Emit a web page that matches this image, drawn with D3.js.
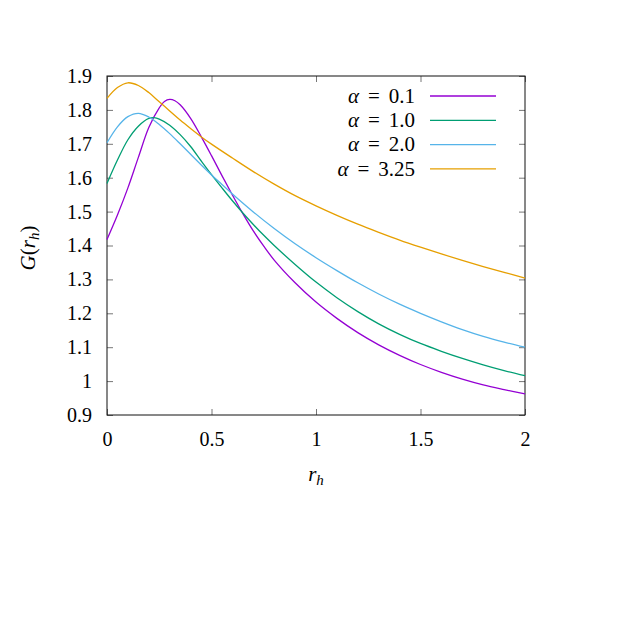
<!DOCTYPE html>
<meta charset="utf-8">
<head>
  <title>G(r_h)</title>
  <script src="https://d3js.org/d3.v7.min.js"></script>
  <style>
    body { margin: 0; background: #fff; }
    text { font-family: "Liberation Serif", "Times New Roman", serif; fill: #000; }
  </style>
</head>
<body>
<svg width="630" height="630"></svg>
<script>
// values
var alphaLabels = ["0.1", "1.0", "2.0", "3.25"];
var colors = ["#9400d3", "#009e73", "#56b4e9", "#e69f00"];

var rPurple = [0, 0.05, 0.1, 0.15, 0.2, 0.25, 0.275, 0.3, 0.325, 0.35, 0.4, 0.45, 0.5, 0.55, 0.6, 0.65, 0.7, 0.75, 0.8, 0.9, 1.0, 1.1, 1.2, 1.3, 1.4, 1.5, 1.6, 1.7, 1.8, 1.9, 2.0];
var gPurple = [1.418, 1.490, 1.570, 1.660, 1.748, 1.806, 1.825, 1.831, 1.827, 1.815, 1.775, 1.722, 1.665, 1.606, 1.549, 1.494, 1.443, 1.398, 1.357, 1.290, 1.233, 1.185, 1.143, 1.107, 1.076, 1.049, 1.026, 1.006, 0.989, 0.975, 0.962];

var rGreen = [0, 0.05, 0.1, 0.15, 0.2, 0.225, 0.25, 0.3, 0.35, 0.4, 0.45, 0.5, 0.55, 0.6, 0.65, 0.7, 0.75, 0.8, 0.9, 1.0, 1.1, 1.2, 1.3, 1.4, 1.5, 1.6, 1.7, 1.8, 1.9, 2.0];
var gGreen = [1.583, 1.652, 1.712, 1.752, 1.775, 1.777, 1.773, 1.755, 1.727, 1.692, 1.650, 1.609, 1.570, 1.532, 1.496, 1.462, 1.430, 1.400, 1.344, 1.292, 1.246, 1.205, 1.169, 1.138, 1.111, 1.088, 1.067, 1.048, 1.031, 1.016];

var rBlue = [0, 0.05, 0.1, 0.15, 0.2, 0.25, 0.3, 0.35, 0.4, 0.45, 0.5, 0.55, 0.6, 0.7, 0.8, 0.9, 1.0, 1.1, 1.2, 1.3, 1.4, 1.5, 1.6, 1.7, 1.8, 1.9, 2.0];
var gBlue = [1.703, 1.750, 1.780, 1.790, 1.779, 1.757, 1.730, 1.700, 1.669, 1.638, 1.608, 1.580, 1.552, 1.499, 1.450, 1.405, 1.364, 1.326, 1.290, 1.257, 1.227, 1.200, 1.175, 1.152, 1.132, 1.115, 1.100];

var rOrange = [0, 0.05, 0.1, 0.15, 0.2, 0.25, 0.3, 0.35, 0.4, 0.45, 0.5, 0.6, 0.7, 0.8, 0.9, 1.0, 1.1, 1.2, 1.3, 1.4, 1.5, 1.6, 1.7, 1.8, 1.9, 2.0];
var gOrange = [1.834, 1.866, 1.880, 1.872, 1.851, 1.824, 1.797, 1.770, 1.745, 1.721, 1.699, 1.658, 1.618, 1.581, 1.547, 1.517, 1.489, 1.463, 1.439, 1.416, 1.395, 1.375, 1.356, 1.338, 1.321, 1.304];

var xTicks = [0, 0.5, 1, 1.5, 2];
var yTicks = [0.9, 1, 1.1, 1.2, 1.3, 1.4, 1.5, 1.6, 1.7, 1.8, 1.9];

var series = [
  {r: rPurple, g: gPurple},
  {r: rGreen, g: gGreen},
  {r: rBlue, g: gBlue},
  {r: rOrange, g: gOrange}
];

var svg = d3.select("svg"),
    margin = {top: 76, right: 105, bottom: 215, left: 107},
    width = 630 - margin.left - margin.right,
    height = 630 - margin.top - margin.bottom,
    g = svg.append("g").attr("transform", "translate(" + margin.left + "," + margin.top + ")");

var x = d3.scaleLinear().domain([0, 2]).range([0, width]);
var y = d3.scaleLinear().domain([0.9, 1.9]).range([height, 0]);

var tickLen = 6;
function fmt(d) { return d3.format("~g")(d); }

// axes with inward ticks, mirrored on top and right
var axB = g.append("g").attr("transform", "translate(0," + height + ")")
  .call(d3.axisBottom(x).tickValues(xTicks).tickSize(-tickLen).tickPadding(17).tickFormat(fmt));
var axT = g.append("g")
  .call(d3.axisTop(x).tickValues(xTicks).tickSize(-tickLen).tickFormat(""));
var axL = g.append("g")
  .call(d3.axisLeft(y).tickValues(yTicks).tickSize(-tickLen).tickPadding(15).tickFormat(fmt));
var axR = g.append("g").attr("transform", "translate(" + width + ",0)")
  .call(d3.axisRight(y).tickValues(yTicks).tickSize(-tickLen).tickFormat(""));

[axB, axT, axL, axR].forEach(function(a) {
  a.select(".domain").remove();
  a.selectAll(".tick line").attr("stroke", "#777");
  a.selectAll("text").attr("font-size", 20).attr("font-family", "Liberation Serif").attr("fill", "#000");
});

g.append("rect")
  .attr("width", width).attr("height", height)
  .attr("fill", "none").attr("stroke", "#111").attr("stroke-width", 1);

var line = d3.line()
  .x(function(d) { return x(d[0]); })
  .y(function(d) { return y(d[1]); })
  .curve(d3.curveCatmullRom.alpha(0.5));

series.forEach(function(s, i) {
  g.append("path")
    .datum(d3.zip(s.r, s.g))
    .attr("fill", "none")
    .attr("stroke", colors[i])
    .attr("stroke-width", 1.3)
    .attr("d", line);
});

// legend
var legend = g.append("g").selectAll("g")
  .data(alphaLabels)
  .enter().append("g")
  .attr("transform", function(d, i) { return "translate(0," + (20 + i * 24.3) + ")"; });

legend.append("line")
  .attr("x1", 323).attr("x2", 389)
  .attr("stroke", function(d, i) { return colors[i]; })
  .attr("stroke-width", 1.3);

var lt = legend.append("text")
  .attr("x", 308).attr("dy", "0.32em")
  .attr("text-anchor", "end").attr("font-size", 21);
lt.append("tspan").attr("font-style", "italic").text("α");
lt.append("tspan").attr("dx", 9).text("=");
lt.append("tspan").attr("dx", 9).text(function(d) { return d; });

// axis titles
var xt = svg.append("text")
  .attr("x", 316).attr("y", 481)
  .attr("text-anchor", "middle").attr("font-size", 21);
xt.append("tspan").attr("font-style", "italic").text("r");
xt.append("tspan").attr("font-style", "italic").attr("font-size", 15).attr("dy", 4).text("h");

var yt = svg.append("text")
  .attr("transform", "translate(35,248) rotate(-90)")
  .attr("text-anchor", "middle").attr("font-size", 21);
yt.append("tspan").attr("font-style", "italic").text("G");
yt.append("tspan").text("(");
yt.append("tspan").attr("font-style", "italic").text("r");
yt.append("tspan").attr("font-style", "italic").attr("font-size", 15).attr("dy", 4).text("h");
yt.append("tspan").attr("dy", -4).text(")");
</script>
</body>
